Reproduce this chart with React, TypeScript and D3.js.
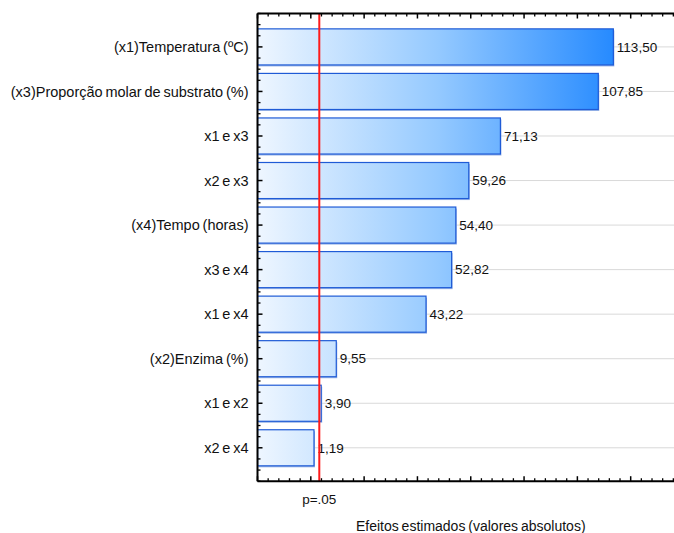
import React from "react";
import * as d3 from "d3";

// Pareto chart of standardized effects
const factors = [
  "(x1)Temperatura (ºC)",
  "(x3)Proporção molar de substrato (%)",
  "x1 e x3",
  "x2 e x3",
  "(x4)Tempo (horas)",
  "x3 e x4",
  "x1 e x4",
  "(x2)Enzima (%)",
  "x1 e x2",
  "x2 e x4",
];
const effects = [113.5, 107.85, 71.13, 59.26, 54.4, 52.82, 43.22, 9.55, 3.9, 1.19];
const pCritical = 3.182;
const pLabel = "p=.05";
const xTitle = "Efeitos estimados (valores absolutos)";

const W = 674;
const H = 533;
const FONT = "'Liberation Sans', Arial, sans-serif";

export default function App() {
  const x = d3.scaleLinear().domain([-20, 140]).range([257.5, 684]);
  const y = d3.scaleLinear().domain([-0.75, 9.75]).range([13.5, 481.2]);
  const [x0, x1] = x.range();
  const [y0, y1] = y.range();
  const half = 0.405;

  const majorX = d3.range(-20, 141, 20);
  const minorX = d3.range(-20, 141, 4).filter((v) => !majorX.includes(v));
  const rowIdx = d3.range(factors.length);
  const minorY = d3.range(-0.75, 9.76, 0.25).filter((v) => Math.abs(v - Math.round(v)) > 0.01 || v < 0);

  const fmt = (v: number) => v.toFixed(2).replace(".", ",");

  return (
    <svg
      width={W}
      height={H}
      style={{ position: "absolute", left: 0, top: 0, background: "#fff" }}
      fontFamily={FONT}
    >
      <defs>
        <linearGradient id="barGrad" gradientUnits="userSpaceOnUse" x1={x0} x2={620} y1={0} y2={0}>
          <stop offset="0" stopColor="#eef6ff" />
          <stop offset="0.5" stopColor="#94c9ff" />
          <stop offset="1" stopColor="#2288ff" />
        </linearGradient>
        <clipPath id="plotClip">
          <rect x={x0} y={y0} width={x1 - x0} height={y1 - y0} />
        </clipPath>
      </defs>

      {/* horizontal grid lines */}
      {rowIdx.map((i) => (
        <line key={"g" + i} x1={x0} x2={x1} y1={y(i)} y2={y(i)} stroke="#d9d9d9" strokeWidth={1} />
      ))}

      {/* bars */}
      <g clipPath="url(#plotClip)">
        {effects.map((v, i) => {
          const top = y(i - half);
          const h = y(i + half) - top;
          const w = x(v) - x0;
          return (
            <g key={"b" + i}>
              <rect x={x0 + 1} y={top + 1.5} width={w} height={h} fill="#9cb6e6" />
              <rect x={x0} y={top} width={w} height={h} fill="url(#barGrad)" stroke="#1f5bd6" strokeWidth={1.2} />
            </g>
          );
        })}
      </g>

      {/* value labels */}
      {effects.map((v, i) => (
        <text key={"v" + i} x={x(v) + 3.5} y={y(i)} dy="0.35em" fontSize={13.5} fill="#111">
          {fmt(v)}
        </text>
      ))}

      {/* critical value line */}
      <line x1={x(pCritical)} x2={x(pCritical)} y1={y0} y2={y1} stroke="#ff1a1a" strokeWidth={2} />

      {/* frame */}
      <line x1={x0} x2={x1} y1={y0} y2={y0} stroke="#000" strokeWidth={2} />
      <line x1={x0} x2={x1} y1={y1} y2={y1} stroke="#000" strokeWidth={2} />
      <line x1={x0} x2={x0} y1={y0} y2={y1} stroke="#000" strokeWidth={2} />

      {/* x ticks, top and bottom, pointing inward */}
      {majorX.map((v) => (
        <g key={"mx" + v}>
          <line x1={x(v)} x2={x(v)} y1={y0} y2={y0 + 5} stroke="#000" strokeWidth={1.5} />
          <line x1={x(v)} x2={x(v)} y1={y1} y2={y1 - 5} stroke="#000" strokeWidth={1.5} />
        </g>
      ))}
      {minorX.map((v) => (
        <g key={"nx" + v}>
          <line x1={x(v)} x2={x(v)} y1={y0} y2={y0 + 3} stroke="#000" strokeWidth={1.3} />
          <line x1={x(v)} x2={x(v)} y1={y1} y2={y1 - 3} stroke="#000" strokeWidth={1.3} />
        </g>
      ))}

      {/* y ticks */}
      {rowIdx.map((i) => (
        <line key={"my" + i} x1={x0} x2={x0 + 5} y1={y(i)} y2={y(i)} stroke="#000" strokeWidth={1.5} />
      ))}
      {minorY.map((v) => (
        <line key={"ny" + v} x1={x0} x2={x0 + 3} y1={y(v)} y2={y(v)} stroke="#000" strokeWidth={1.3} />
      ))}

      {/* category labels */}
      {factors.map((f, i) => (
        <text
          key={"f" + i}
          x={x0 - 9}
          y={y(i)}
          dy="0.35em"
          textAnchor="end"
          fontSize={14.5}
          wordSpacing={-1.2}
          fill="#111"
        >
          {f}
        </text>
      ))}

      <text x={x(pCritical)} y={504} textAnchor="middle" fontSize={13.5} fill="#111">
        {pLabel}
      </text>
      <text x={(x0 + x1) / 2} y={531} textAnchor="middle" fontSize={14} wordSpacing={-1} fill="#111">
        {xTitle}
      </text>
    </svg>
  );
}
